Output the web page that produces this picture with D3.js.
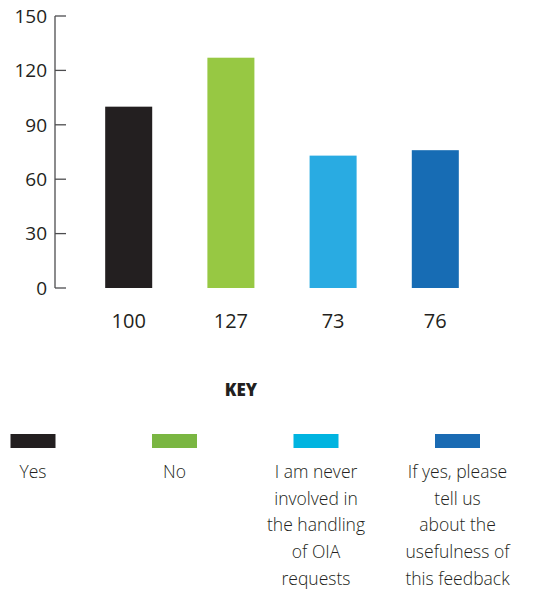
<!DOCTYPE html>
<html>
<head>
<meta charset="utf-8">
<script src="https://cdn.jsdelivr.net/npm/d3@7"></script>
<style>
  html, body { margin: 0; padding: 0; background: #fff; }
  svg { display: block; }
  text { font-family: "Open Sans", "Noto Sans", sans-serif; }
</style>
</head>
<body>
<svg id="chart" width="538" height="593"></svg>
<script>
// Survey responses
const categories = ["Yes", "No", "I am never involved in the handling of OIA requests", "If yes, please tell us about the usefulness of this feedback"];
const values = [100, 127, 73, 76];
const barColors = ["#231f20", "#97c843", "#29abe2", "#176cb4"];
const keyColors = ["#231f20", "#7ab642", "#00b4e0", "#1a6bb3"];
const keyLines = [
  ["Yes"],
  ["No"],
  ["I am never", "involved in", "the handling", "of OIA", "requests"],
  ["If yes, please", "tell us", "about the", "usefulness of", "this feedback"]
];
const yTicks = [0, 30, 60, 90, 120, 150];

const svg = d3.select("#chart");

const x = d3.scaleBand().domain(categories).range([50, 514]).paddingInner(0.54).paddingOuter(0.54);
const y = d3.scaleLinear().domain([0, 150]).range([288, 16]);

// y axis: line with inward ticks, labels on the left
const yAxis = svg.append("g").attr("transform", "translate(55,0)");
yAxis.append("line")
  .attr("x1", 0).attr("x2", 0)
  .attr("y1", y(0)).attr("y2", y(150))
  .attr("stroke", "#4d4d4f").attr("stroke-width", 1.3);
yAxis.selectAll("line.tick").data(yTicks).join("line")
  .attr("class", "tick")
  .attr("x1", 0).attr("x2", 11)
  .attr("y1", d => y(d)).attr("y2", d => y(d))
  .attr("stroke", "#4d4d4f").attr("stroke-width", 1.3);
yAxis.selectAll("text").data(yTicks).join("text")
  .attr("x", -8).attr("y", d => y(d))
  .attr("dy", "0.36em")
  .attr("text-anchor", "end")
  .attr("font-size", 19)
  .attr("fill", "#231f20")
  .text(d => d);

// bars
svg.append("g").selectAll("rect").data(values).join("rect")
  .attr("x", (d, i) => x(categories[i]))
  .attr("width", x.bandwidth())
  .attr("y", d => y(d))
  .attr("height", d => y(0) - y(d))
  .attr("fill", (d, i) => barColors[i]);

// value labels under each bar
svg.append("g").selectAll("text").data(values).join("text")
  .attr("x", (d, i) => x(categories[i]) + x.bandwidth() / 2)
  .attr("y", 328)
  .attr("text-anchor", "middle")
  .attr("font-size", 20)
  .attr("fill", "#231f20")
  .text(d => d);

// key
svg.append("text")
  .attr("x", 241).attr("y", 396)
  .attr("text-anchor", "middle")
  .attr("font-size", 17)
  .attr("font-weight", 800)
  .attr("fill", "#231f20")
  .text("KEY");

const keyX = d3.scalePoint().domain(categories).range([33, 457.5]);
const key = svg.append("g").selectAll("g").data(categories).join("g")
  .attr("transform", d => `translate(${keyX(d)},0)`);
key.append("rect")
  .attr("x", -22.5).attr("y", 434)
  .attr("width", 45).attr("height", 14)
  .attr("fill", (d, i) => keyColors[i]);
key.append("text")
  .attr("text-anchor", "middle")
  .attr("font-size", 17.5)
  .attr("font-weight", 300)
  .attr("fill", "#231f20")
  .selectAll("tspan").data((d, i) => keyLines[i]).join("tspan")
  .attr("x", 0)
  .attr("y", (d, j) => 478 + j * 26.7)
  .text(d => d);
</script>
</body>
</html>
